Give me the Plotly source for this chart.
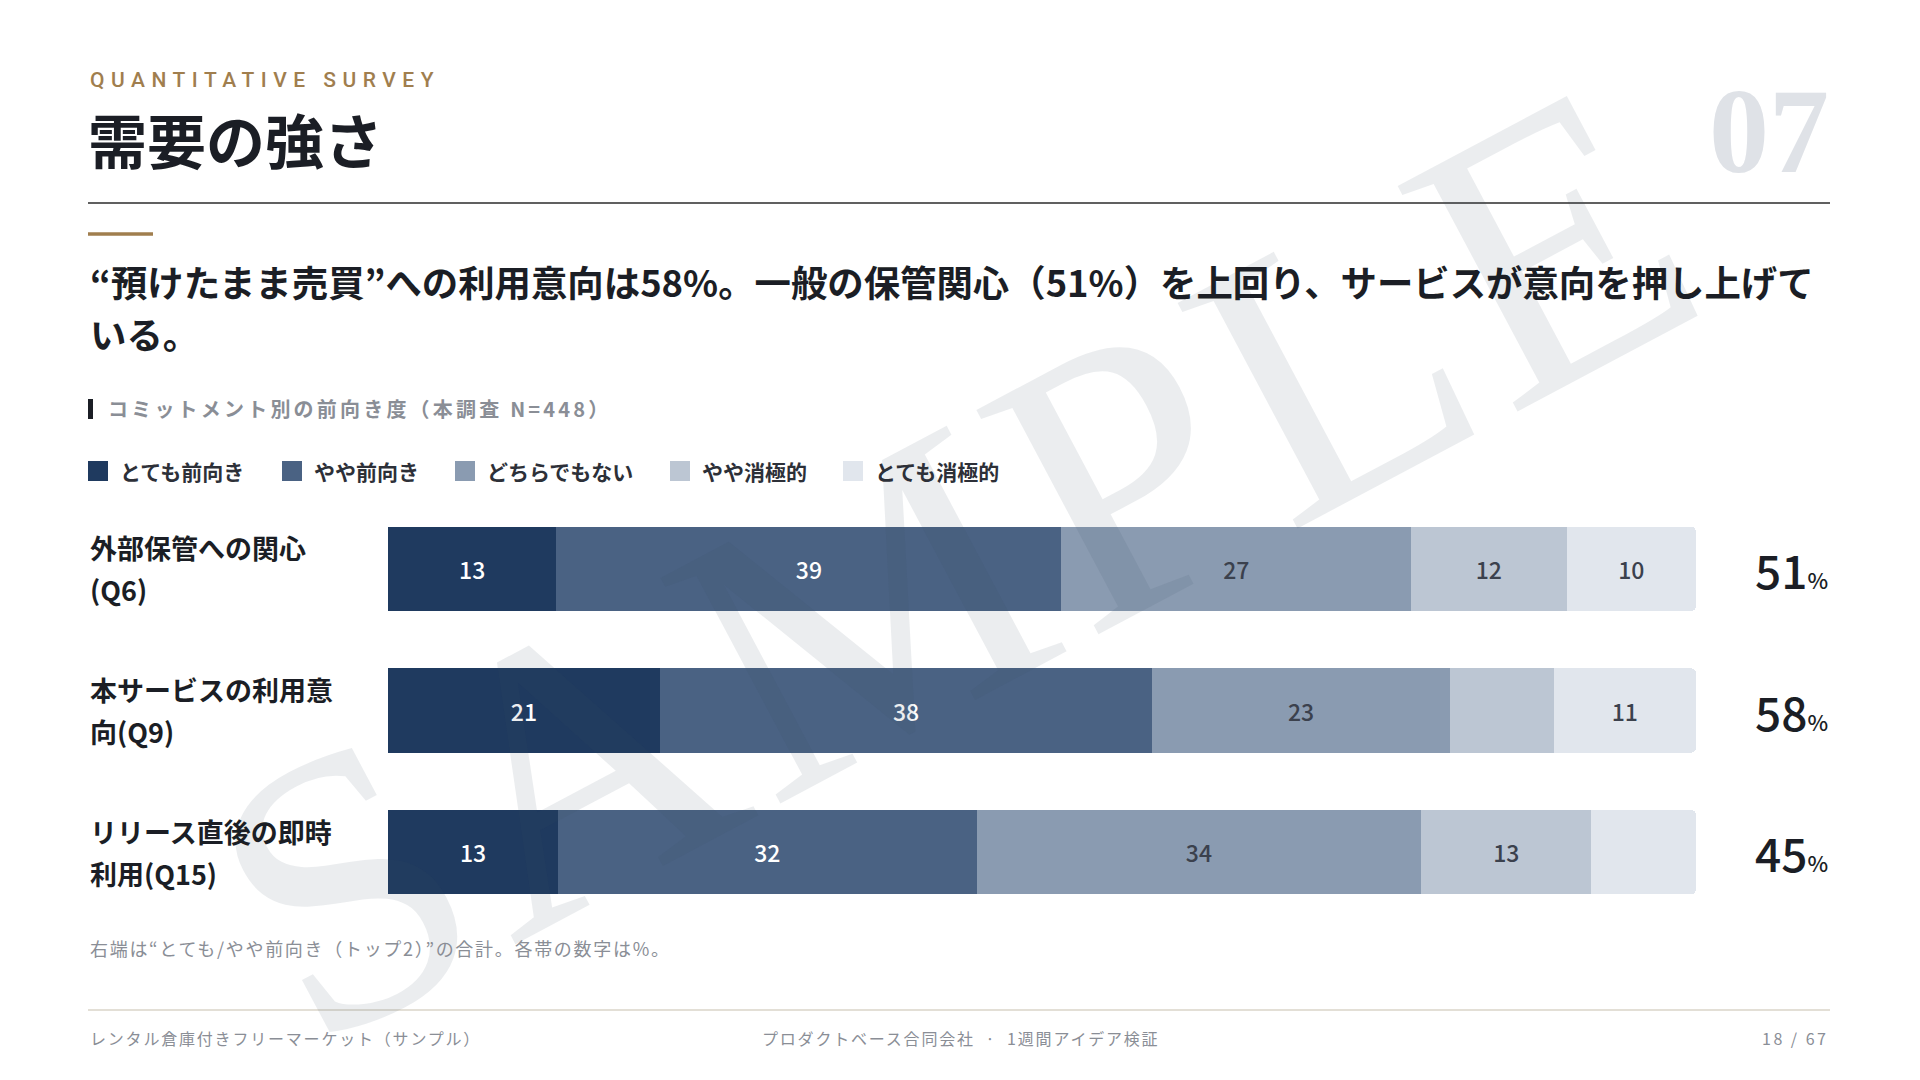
import plotly.graph_objects as go

W, H = 1920, 1080
OFF = 8  # the page body keeps its default 8px margin

# --- data ---
rows = ["外部保管への関心<br>(Q6)", "本サービスの利用意<br>向(Q9)", "リリース直後の即時<br>利用(Q15)"]
levels = ["とても前向き", "やや前向き", "どちらでもない", "やや消極的", "とても消極的"]
very_pos = [13, 21, 13]
some_pos = [39, 38, 32]
neutral = [27, 23, 34]
some_neg = [12, 8, 13]
very_neg = [10, 11, 8]
top2 = [51, 58, 45]

series = [very_pos, some_pos, neutral, some_neg, very_neg]
colors = ["#1f3a5f", "#4a6283", "#8a9bb1", "#bcc6d3", "#e1e6ed"]
text_colors = ["#ffffff", "#ffffff", "#3b414d", "#3b414d", "#3b414d"]

JP = "Noto Sans CJK JP, Noto Sans, sans-serif"
GOLD = "#a07e4e"
INK = "#1b1e25"
GRAY = "#8a8e96"


def px(x):
    return (x - OFF) / W


def py(y):
    return 1 - (y - OFF) / H


def note(text, x, y, size, color=INK, anchor="left", weight="normal", family=JP, **kw):
    return dict(text=text, xref="paper", yref="paper", x=px(x), y=py(y), xanchor=anchor,
                yanchor="middle", showarrow=False,
                font=dict(family=family, size=size, color=color, weight=weight), **kw)


fig = go.Figure()

for name, vals, c, tc in zip(levels, series, colors, text_colors):
    fig.add_trace(go.Bar(
        y=rows,
        x=vals,
        orientation="h",
        name=name,
        marker=dict(color=c, line_width=0),
        text=[str(v) if v >= 10 else "" for v in vals],
        textposition="inside",
        insidetextanchor="middle",
        textangle=0,
        textfont=dict(size=23, color=tc, family=JP, weight=500),
        hoverinfo="skip",
        showlegend=False,
    ))

shapes = [
    # header rule
    dict(type="line", xref="paper", yref="paper", x0=px(88), x1=px(1830), y0=py(203), y1=py(203),
         line=dict(color="#2b2b2b", width=1.5)),
    # gold accent
    dict(type="line", xref="paper", yref="paper", x0=px(88), x1=px(153), y0=py(234), y1=py(234),
         line=dict(color=GOLD, width=3.5)),
    # section marker
    dict(type="rect", xref="paper", yref="paper", x0=px(88), x1=px(93), y0=py(419), y1=py(399),
         fillcolor="#1b1e25", line_width=0),
    # footer rule
    dict(type="line", xref="paper", yref="paper", x0=px(88), x1=px(1830), y0=py(1010), y1=py(1010),
         line=dict(color="#e3dfd6", width=2)),
]

annotations = [
    # watermark (kept first so the texts sit on top of it)
    dict(text="<span style='letter-spacing:11px'>SAMPLE</span>", xref="paper", yref="paper",
         x=px(957), y=py(560), showarrow=False, textangle=-28,
         font=dict(family="Liberation Serif, serif", size=390, color="rgba(60,75,100,0.1)")),
    note("<span style='letter-spacing:6.5px'>QUANTITATIVE SURVEY</span>", 88, 80, 21, GOLD, weight=500,
         family="Roboto, sans-serif"),
    note("需要の強さ", 86, 139, 59, weight="bold"),
    note("07", 1831, 131, 120, "#dfe2e7", anchor="right", weight="bold", family="Liberation Serif, serif"),
    note("“預けたまま売買”への利用意向は58%。一般の保管関心（51%）を上回り、サービスが意向を押し上げて",
         88, 281, 36.4, weight="bold"),
    note("いる。", 88, 333, 36.4, weight="bold"),
    note("<span style='letter-spacing:3.2px'>コミットメント別の前向き度（本調査 N=448）</span>", 106, 409, 20, GRAY,
         weight="bold"),
    note("<span style='letter-spacing:1.7px'>右端は“とても/やや前向き（トップ2）”の合計。各帯の数字は%。</span>",
         88, 948, 18, GRAY),
    note("<span style='letter-spacing:1.8px'>レンタル倉庫付きフリーマーケット（サンプル）</span>", 88, 1038, 16, GRAY),
    note("<span style='letter-spacing:1.8px'>プロダクトベース合同会社  ·  1週間アイデア検証</span>", 960, 1038, 16, GRAY,
         anchor="center"),
    note("<span style='letter-spacing:2.5px'>18 / 67</span>", 1830, 1038, 16, GRAY, anchor="right"),
]

# legend drawn as swatches + labels
lx = 88
for name, c in zip(levels, colors):
    shapes.append(dict(type="rect", xref="paper", yref="paper", x0=px(lx), x1=px(lx + 20),
                       y0=py(481), y1=py(461), fillcolor=c, line_width=0))
    annotations.append(note(name, lx + 30, 471, 21, "#2d3038", weight="bold"))
    lx += 20 + 11 + 21 * len(name) + 37

# row labels (two lines each) and top-2 totals
for r, t in zip(rows, top2):
    for i, ln in enumerate(r.split("<br>")):
        annotations.append(dict(text=ln, xref="paper", yref="y", x=px(88), y=r, xanchor="left",
                                yanchor="middle", yshift=21 - 42 * i, showarrow=False,
                                font=dict(family=JP, size=27, color=INK, weight="bold")))
    annotations.append(dict(text=f"{t}<span style='font-size:22px'>%</span>", xref="paper", yref="y",
                            x=px(1830), y=r, xanchor="right", yanchor="middle", showarrow=False,
                            font=dict(family=JP, size=46, color=INK, weight=500)))

fig.update_layout(
    width=W,
    height=H,
    margin=dict(l=0, r=0, t=0, b=0),
    paper_bgcolor="white",
    plot_bgcolor="white",
    barmode="stack",
    barnorm="percent",
    bargap=0.404,
    barcornerradius=5,
    showlegend=False,
    xaxis=dict(domain=[px(388), px(1696)], range=[0, 100], visible=False, fixedrange=True),
    yaxis=dict(domain=[py(923), py(498)], autorange="reversed", visible=False, fixedrange=True),
    shapes=shapes,
    annotations=annotations,
)

fig.write_html("out.html")
